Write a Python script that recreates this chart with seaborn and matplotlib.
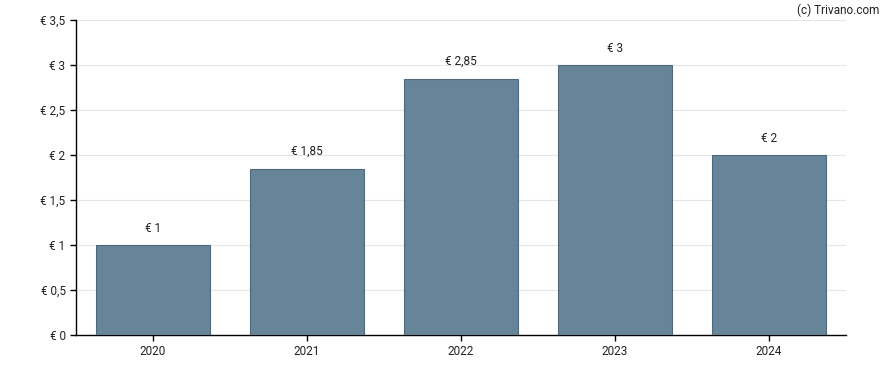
import matplotlib
matplotlib.use("Agg")
import matplotlib.pyplot as plt
import seaborn as sns
import pandas as pd

years = ["2020", "2021", "2022", "2023", "2024"]
dividends = [1.0, 1.85, 2.85, 3.0, 2.0]
bar_labels = ["€ 1", "€ 1,85", "€ 2,85", "€ 3", "€ 2"]
y_ticks = [0, 0.5, 1, 1.5, 2, 2.5, 3, 3.5]
y_ticklabels = ["€ 0", "€ 0,5", "€ 1", "€ 1,5", "€ 2", "€ 2,5", "€ 3", "€ 3,5"]

sns.set_style("white")
plt.rcParams["font.family"] = ["Roboto", "DejaVu Sans"]

df = pd.DataFrame({"year": years, "value": dividends})

fig = plt.figure(figsize=(8.88, 3.7), dpi=100)
ax = fig.add_axes([0.0856, 0.0946, 0.8671, 0.8513])

sns.barplot(data=df, x="year", y="value", ax=ax, color="#5f7f94", width=0.745,
            edgecolor="#4a6377", linewidth=0.8, saturation=1, alpha=0.95, zorder=3)

for i, (v, lab) in enumerate(zip(dividends, bar_labels)):
    ax.annotate(lab, (i, v), xytext=(0, 7.5), textcoords="offset points",
                ha="center", va="bottom", fontsize=8.5, color="#222222")

ax.set_xlim(-0.5, 4.5)
ax.set_ylim(0, 3.5)
ax.set_yticks(y_ticks)
ax.set_yticklabels(y_ticklabels)
ax.set_xlabel("")
ax.set_ylabel("")
ax.grid(axis="y", color="#e6e6e6", linewidth=0.8, zorder=0)
ax.set_axisbelow(True)

for side in ["top", "right"]:
    ax.spines[side].set_visible(False)
for side in ["left", "bottom"]:
    ax.spines[side].set_color("black")
    ax.spines[side].set_linewidth(1)

ax.tick_params(axis="both", which="both", direction="out", length=4, width=1,
               color="black", labelsize=8.5, labelcolor="#222222", left=True, bottom=True)

fig.text(0.99, 0.99, "(c) Trivano.com", ha="right", va="top", fontsize=8.5, color="#222222")

fig.savefig("out.png", dpi=100)
